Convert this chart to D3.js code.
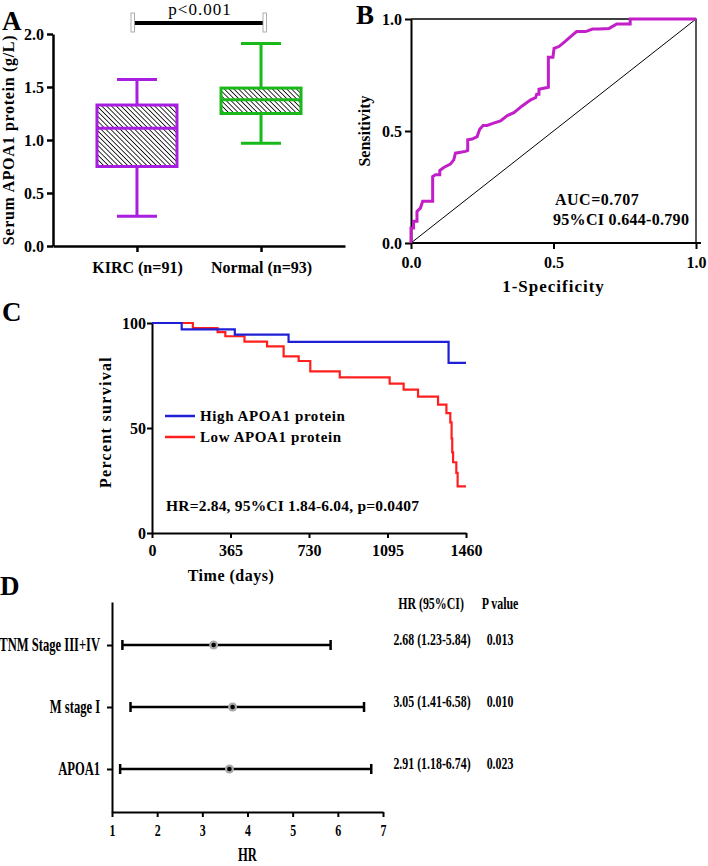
<!DOCTYPE html>
<html>
<head>
<meta charset="utf-8">
<script src="https://cdn.jsdelivr.net/npm/d3@7"></script>
<style>
body { margin: 0; background: #fff; }
svg text { font-family: "Liberation Serif", "Times New Roman", serif; font-weight: bold; fill: #000; }
.axis path, .axis line { stroke: #000; }
</style>
</head>
<body>
<svg id="fig" width="708" height="866"></svg>
<script>
// ---- Panel A: serum APOA1 box plot ----
const boxGroups = ['KIRC (n=91)', 'Normal (n=93)'];
const boxMin = [0.28, 0.97];
const boxQ1 = [0.75, 1.25];
const boxMedian = [1.11, 1.38];
const boxQ3 = [1.33, 1.49];
const boxMax = [1.57, 1.91];
const boxColors = ['#a81ee0', '#19b919'];
const boxTicks = [0, 0.5, 1.0, 1.5, 2.0];

// ---- Panel B: ROC curve ----
const rocFpr = [0, 0, 0.009, 0.009, 0.021, 0.021, 0.033, 0.041, 0.076, 0.076, 0.086, 0.101, 0.101, 0.115, 0.138, 0.15, 0.156,
  0.191, 0.199, 0.199, 0.215, 0.232, 0.241, 0.253, 0.267, 0.29, 0.314, 0.338, 0.361, 0.39, 0.42, 0.437, 0.441, 0.449, 0.449,
  0.482, 0.482, 0.498, 0.502, 0.519, 0.537, 0.56, 0.581, 0.613, 0.637, 0.66, 0.695, 0.722, 0.769, 0.769, 1];
const rocTpr = [0, 0.067, 0.067, 0.097, 0.097, 0.141, 0.156, 0.186, 0.186, 0.297, 0.305, 0.305, 0.324, 0.337, 0.352, 0.371, 0.401,
  0.409, 0.413, 0.461, 0.464, 0.475, 0.508, 0.525, 0.525, 0.535, 0.545, 0.569, 0.582, 0.612, 0.639, 0.649, 0.664, 0.664, 0.686,
  0.695, 0.829, 0.829, 0.869, 0.877, 0.896, 0.921, 0.944, 0.944, 0.955, 0.955, 0.958, 0.978, 0.978, 1, 1];
const rocTicks = [0, 0.5, 1.0];

// ---- Panel C: Kaplan-Meier ----
const highDays = [0, 138, 385, 635, 1379, 1460];
const highSurv = [100, 97, 94.5, 91, 81, 81];
const lowDays = [0, 190, 305, 341, 430, 535, 612, 682, 736, 873, 1105, 1170, 1237, 1330, 1369, 1387, 1393, 1396, 1400, 1415, 1421, 1460];
const lowSurv = [100, 97.6, 95.7, 93.7, 91.1, 88.9, 84.1, 81.9, 77, 74.1, 71.1, 68.3, 64.9, 61.1, 57.1, 52.7, 45, 38.4, 33.7, 28.6, 22.2, 22.2];
const kmTicksX = [0, 365, 730, 1095, 1460];
const kmTicksY = [0, 50, 100];

// ---- Panel D: forest plot ----
const forestVars = ['TNM Stage III+IV', 'M stage I', 'APOA1'];
const forestPoint = [3.25, 3.67, 3.6];
const forestLow = [1.23, 1.41, 1.18];
const forestHigh = [5.84, 6.58, 6.74];
const forestHrText = ['2.68 (1.23-5.84)', '3.05 (1.41-6.58)', '2.91 (1.18-6.74)'];
const forestPText = ['0.013', '0.010', '0.023'];
const forestTicks = [1, 2, 3, 4, 5, 6, 7];

const svg = d3.select('#fig');
svg.append('rect').attr('width', 708).attr('height', 866).attr('fill', '#fff');

// hatch for the boxes
svg.append('defs').append('pattern')
  .attr('id', 'hatch')
  .attr('patternUnits', 'userSpaceOnUse')
  .attr('width', 3.4).attr('height', 3.4)
  .attr('patternTransform', 'rotate(-45)')
  .append('line')
  .attr('x1', 0).attr('y1', 0).attr('x2', 0).attr('y2', 3.4)
  .attr('stroke', '#000').attr('stroke-width', 1.6);

function styleAxis(g, w) {
  g.attr('class', 'axis');
  g.select('.domain').attr('stroke-width', w);
  g.selectAll('.tick line').attr('stroke-width', w);
  g.selectAll('.tick text').style('font-size', '16px').attr('fill', '#000');
}

function panelLabel(txt, x, y) {
  svg.append('text').attr('x', x).attr('y', y).style('font-size', '27px').text(txt);
}

// ================= A =================
(function () {
  const y = d3.scaleLinear().domain([0, 2]).range([246, 34]);
  const x = d3.scalePoint().domain(boxGroups).range([53, 345]).padding(0.677);
  const boxW = 80, capW = 40;

  const gy = svg.append('g').attr('transform', 'translate(53,0)')
    .call(d3.axisLeft(y).tickValues(boxTicks).tickFormat(d3.format('.1f')).tickSize(6).tickSizeOuter(0).tickPadding(3));
  styleAxis(gy, 2.5);
  const gx = svg.append('g').attr('transform', 'translate(0,246)')
    .call(d3.axisBottom(x).tickSize(6).tickSizeOuter(0).tickPadding(10));
  styleAxis(gx, 2.5);

  boxGroups.forEach((grp, i) => {
    const cx = x(grp), c = boxColors[i];
    const g = svg.append('g').attr('stroke', c).attr('stroke-width', 3).attr('fill', 'none');
    g.append('line').attr('x1', cx).attr('x2', cx).attr('y1', y(boxMax[i])).attr('y2', y(boxQ3[i]));
    g.append('line').attr('x1', cx).attr('x2', cx).attr('y1', y(boxQ1[i])).attr('y2', y(boxMin[i]));
    g.append('line').attr('x1', cx - capW / 2).attr('x2', cx + capW / 2).attr('y1', y(boxMax[i])).attr('y2', y(boxMax[i]));
    g.append('line').attr('x1', cx - capW / 2).attr('x2', cx + capW / 2).attr('y1', y(boxMin[i])).attr('y2', y(boxMin[i]));
    g.append('rect').attr('x', cx - boxW / 2).attr('y', y(boxQ3[i]))
      .attr('width', boxW).attr('height', y(boxQ1[i]) - y(boxQ3[i]))
      .attr('fill', 'url(#hatch)');
    g.append('line').attr('x1', cx - boxW / 2).attr('x2', cx + boxW / 2).attr('y1', y(boxMedian[i])).attr('y2', y(boxMedian[i]));
  });

  // significance bar
  const x1 = 133, x2 = 265;
  svg.append('line').attr('x1', x1).attr('x2', x2).attr('y1', 23).attr('y2', 23)
    .attr('stroke', '#000').attr('stroke-width', 4);
  [x1, x2].forEach(px => svg.append('rect').attr('x', px - 2).attr('y', 13).attr('width', 3.5).attr('height', 19)
    .attr('fill', '#fff').attr('stroke', '#999').attr('stroke-width', 0.8));
  svg.append('text').attr('x', 200).attr('y', 15).attr('text-anchor', 'middle')
    .style('font-weight', 'normal').style('font-size', '17px').style('letter-spacing', '1px').text('p<0.001');

  svg.append('text').attr('transform', 'translate(14,140) rotate(-90)').attr('text-anchor', 'middle')
    .style('font-size', '16px').style('letter-spacing', '0.7px').text('Serum APOA1 protein (g/L)');
  panelLabel('A', 2, 30);
})();

// ================= B =================
(function () {
  const x = d3.scaleLinear().domain([0, 1]).range([411, 696]);
  const y = d3.scaleLinear().domain([0, 1]).range([243, 19]);

  const gy = svg.append('g').attr('transform', 'translate(411,0)')
    .call(d3.axisLeft(y).tickValues(rocTicks).tickFormat(d3.format('.1f')).tickSize(6).tickSizeOuter(0).tickPadding(3));
  styleAxis(gy, 2);
  const gx = svg.append('g').attr('transform', 'translate(0,243)')
    .call(d3.axisBottom(x).tickValues(rocTicks).tickFormat(d3.format('.1f')).tickSize(6).tickSizeOuter(0).tickPadding(8));
  styleAxis(gx, 2);
  gx.select('.domain').attr('d', `M411,0H${x(1) + 5}`);

  // frame top and right
  svg.append('path').attr('d', `M${x(0)},${y(1)}H${x(1)}V${y(0)}`)
    .attr('fill', 'none').attr('stroke', '#000').attr('stroke-width', 1.3);
  svg.append('line').attr('x1', x(0)).attr('y1', y(0)).attr('x2', x(1)).attr('y2', y(1))
    .attr('stroke', '#000').attr('stroke-width', 1);

  const pts = rocFpr.map((f, i) => [f, rocTpr[i]]);
  svg.append('path').datum(pts)
    .attr('d', d3.line().x(d => x(d[0])).y(d => y(d[1])))
    .attr('fill', 'none').attr('stroke', '#c21fc8').attr('stroke-width', 3);

  svg.append('text').attr('x', 555).attr('y', 205).style('font-size', '16px').style('letter-spacing', '0.5px').text('AUC=0.707');
  svg.append('text').attr('x', 553).attr('y', 225).style('font-size', '16px').style('letter-spacing', '0.3px').text('95%CI 0.644-0.790');
  svg.append('text').attr('transform', 'translate(370,131) rotate(-90)').attr('text-anchor', 'middle')
    .style('font-size', '16px').text('Sensitivity');
  svg.append('text').attr('x', x(0.5)).attr('y', 292).attr('text-anchor', 'middle')
    .style('font-size', '17px').style('letter-spacing', '1px').text('1-Specificity');
  panelLabel('B', 356, 24);
})();

// ================= C =================
(function () {
  const x = d3.scaleLinear().domain([0, 1460]).range([152, 466]);
  const y = d3.scaleLinear().domain([0, 100]).range([533, 323]);

  const gy = svg.append('g').attr('transform', 'translate(152,0)')
    .call(d3.axisLeft(y).tickValues(kmTicksY).tickFormat(d3.format('d')).tickSize(5).tickSizeOuter(0).tickPadding(1));
  styleAxis(gy, 2);
  const gx = svg.append('g').attr('transform', 'translate(0,533)')
    .call(d3.axisBottom(x).tickValues(kmTicksX).tickFormat(d3.format('d')).tickSize(5).tickSizeOuter(0).tickPadding(7));
  styleAxis(gx, 2);

  const line = d3.line().curve(d3.curveStepAfter).x(d => x(d[0])).y(d => y(d[1]));
  svg.append('path').datum(lowDays.map((t, i) => [t, lowSurv[i]]))
    .attr('d', line).attr('fill', 'none').attr('stroke', '#ff1f1f').attr('stroke-width', 2.2);
  svg.append('path').datum(highDays.map((t, i) => [t, highSurv[i]]))
    .attr('d', line).attr('fill', 'none').attr('stroke', '#1f1fd6').attr('stroke-width', 2.2);

  // legend
  const leg = [['High APOA1 protein', '#1f1fd6', 416], ['Low APOA1 protein', '#ff1f1f', 437]];
  leg.forEach(([lab, col, ly]) => {
    svg.append('line').attr('x1', 165).attr('x2', 195).attr('y1', ly).attr('y2', ly)
      .attr('stroke', col).attr('stroke-width', 2.5);
    svg.append('text').attr('x', 200).attr('y', ly + 5).style('font-size', '15px').style('letter-spacing', '0.6px').text(lab);
  });
  svg.append('text').attr('x', 166).attr('y', 511).style('font-size', '15.5px').style('letter-spacing', '0.2px')
    .text('HR=2.84, 95%CI 1.84-6.04, p=0.0407');
  svg.append('text').attr('transform', 'translate(111,422) rotate(-90)').attr('text-anchor', 'middle')
    .style('font-size', '16px').style('letter-spacing', '1.3px').text('Percent survival');
  svg.append('text').attr('x', 231).attr('y', 581).attr('text-anchor', 'middle')
    .style('font-size', '16px').style('letter-spacing', '0.5px').text('Time (days)');
  panelLabel('C', 2, 321);
})();

// ================= D =================
(function () {
  const sx = 0.7;
  const x = d3.scaleLinear().domain([1, 7]).range([112, 383]);
  const y = d3.scalePoint().domain(forestVars).range([602, 812]).padding(0.694);

  const gy = svg.append('g').attr('transform', 'translate(112,0)')
    .call(d3.axisLeft(y).tickSize(5).tickSizeOuter(0).tickPadding(12));
  styleAxis(gy, 2);
  gy.selectAll('.tick text').style('font-size', '18px').attr('transform', `scale(${sx},1)`);
  const gx = svg.append('g').attr('transform', 'translate(0,812)')
    .call(d3.axisBottom(x).tickValues(forestTicks).tickFormat(d3.format('d')).tickSize(5).tickSizeOuter(0).tickPadding(7));
  styleAxis(gx, 2);
  gx.selectAll('.tick text').style('font-size', '17px').attr('transform', `scale(${sx},1)`);

  function cond(tx, ty, str, size) {
    svg.append('text').attr('transform', `translate(${tx},${ty}) scale(${sx},1)`)
      .attr('text-anchor', 'middle').style('font-size', size + 'px').text(str);
  }

  forestVars.forEach((v, i) => {
    const cy = y(v);
    const g = svg.append('g').attr('stroke', '#000').attr('stroke-width', 2.5);
    g.append('line').attr('x1', x(forestLow[i])).attr('x2', x(forestHigh[i])).attr('y1', cy).attr('y2', cy);
    g.append('line').attr('x1', x(forestLow[i])).attr('x2', x(forestLow[i])).attr('y1', cy - 5).attr('y2', cy + 5);
    g.append('line').attr('x1', x(forestHigh[i])).attr('x2', x(forestHigh[i])).attr('y1', cy - 5).attr('y2', cy + 5);
    svg.append('circle').attr('cx', x(forestPoint[i])).attr('cy', cy).attr('r', 4.5).attr('fill', '#a8a8a8');
    svg.append('circle').attr('cx', x(forestPoint[i])).attr('cy', cy).attr('r', 2.3).attr('fill', '#000');
    cond(432, cy, forestHrText[i], 17);
    cond(500, cy, forestPText[i], 17);
  });

  cond(431, 609, 'HR (95%CI)', 17);
  cond(500, 609, 'P value', 17);
  cond(x(4), 861, 'HR', 18);
  panelLabel('D', 0, 595);
})();
</script>
</body>
</html>
